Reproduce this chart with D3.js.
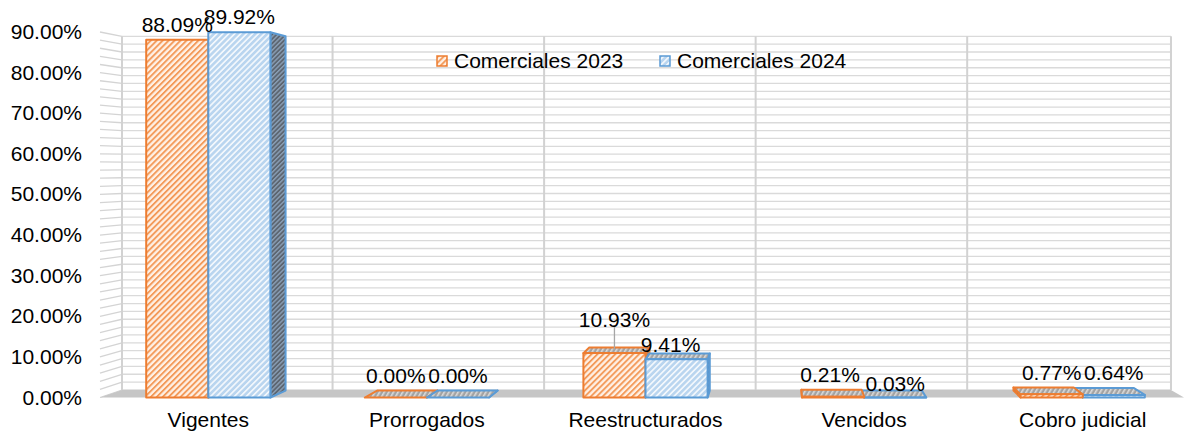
<!DOCTYPE html>
<html>
<head>
<meta charset="utf-8">
<script src="https://cdn.jsdelivr.net/npm/d3@7"></script>
<style>
  body { margin: 0; background: #fff; }
  text { font-family: "Liberation Sans", Arial, sans-serif; fill: #000; }
</style>
</head>
<body>
<div id="chart"></div>
<script>
// data
const categories = ["Vigentes", "Prorrogados", "Reestructurados", "Vencidos", "Cobro judicial"];
const seriesNames = ["Comerciales 2023", "Comerciales 2024"];
const values2023 = [0.8809, 0.0000, 0.1093, 0.0021, 0.0077];
const values2024 = [0.8992, 0.0000, 0.0941, 0.0003, 0.0064];
const yTicks = [0, 0.1, 0.2, 0.3, 0.4, 0.5, 0.6, 0.7, 0.8, 0.9];

const svgWidth = 1185;
const svgHeight = 434;
const fontSize = 21;

const colors = ["#ED7D31", "#5B9BD5"];

const svg = d3.select("#chart")
  .append("svg")
  .attr("width", svgWidth)
  .attr("height", svgHeight);

// 3d look: everything shrinks toward a vanishing point as it goes back
const vp = { x: 781, y: 165 };
const depthK = 0.0323;
function proj(px, py, t) {
  const s = 1 - t * depthK;
  return [vp.x + (px - vp.x) * s, vp.y + (py - vp.y) * s];
}
function poly(pts) {
  return pts.map(p => proj(p[0], p[1], p[2]).join(",")).join(" ");
}

const y = d3.scaleLinear().domain([0, 0.9]).range([397.5, 32]);
const x = d3.scaleBand().domain(categories).range([99, 1192]);
const xs = d3.scaleBand().domain(seriesNames).range([0, x.bandwidth()])
  .paddingInner(0).paddingOuter(0.76);

const wallL = 100, wallR = 1184;
const barDepth = 0.92;

// patterns
const defs = svg.append("defs");
function stripes(id, bg, fg, w, size, angle) {
  const p = defs.append("pattern")
    .attr("id", id)
    .attr("patternUnits", "userSpaceOnUse")
    .attr("width", size).attr("height", size)
    .attr("patternTransform", `rotate(${angle})`);
  p.append("rect").attr("width", size).attr("height", size).attr("fill", bg);
  p.append("rect").attr("width", w).attr("height", size).attr("fill", fg);
}
stripes("front0", "#fff1e6", "#f39a5a", 1.9, 4.2, 45);
stripes("front1", "#b9d5ef", "#f2f7fc", 1.7, 4.2, 45);
stripes("side0", "#7d6a5e", "#b7896a", 1.4, 3.2, 45);
stripes("side1", "#5c6570", "#8a9fb6", 1.4, 3.2, 45);
stripes("top0", "#a3a3a3", "#dadada", 1.6, 4, 30);
stripes("top1", "#a3a3a3", "#dadada", 1.6, 4, 30);

const walls = svg.append("g");

// left wall and back wall
walls.append("polygon")
  .attr("points", poly([[wallL, y(0.9), 0], [wallL, y(0.9), 1], [wallL, y(0), 1], [wallL, y(0), 0]]))
  .attr("fill", "#fff");
walls.append("polygon")
  .attr("points", poly([[wallL, y(0.9), 1], [wallR, y(0.9), 1], [wallR, y(0), 1], [wallL, y(0), 1]]))
  .attr("fill", "#fff");

const gridVals = d3.range(0, 46).map(i => i * 0.02);
gridVals.forEach(g => {
  const a = proj(wallL, y(g), 1), b = proj(wallR, y(g), 1);
  walls.append("line")
    .attr("x1", a[0]).attr("y1", a[1]).attr("x2", b[0]).attr("y2", b[1])
    .attr("stroke", "#dadada").attr("stroke-width", 1.3);
  walls.append("line")
    .attr("x1", wallL).attr("y1", y(g)).attr("x2", a[0]).attr("y2", a[1])
    .attr("stroke", "#d4d4d4").attr("stroke-width", 1.3);
});

// vertical gridlines on back wall at category boundaries
const vLines = [wallL].concat(categories.slice(1).map(c => x(c)), [wallR]);
vLines.forEach(vx => {
  const a = proj(vx, y(0), 1), b = proj(vx, y(0.9), 1);
  walls.append("line")
    .attr("x1", a[0]).attr("y1", a[1]).attr("x2", b[0]).attr("y2", b[1])
    .attr("stroke", "#d2d2d2").attr("stroke-width", 2);
});

// floor
walls.append("polygon")
  .attr("points", poly([[wallL, y(0), 0], [wallR, y(0), 0], [wallR, y(0), 1], [wallL, y(0), 1]]))
  .attr("fill", "#c6c6c6");

// y labels
svg.append("g").selectAll("text")
  .data(yTicks)
  .enter()
  .append("text")
  .attr("x", 82)
  .attr("y", d => y(d) + 7)
  .attr("text-anchor", "end")
  .attr("font-size", fontSize)
  .text(d => d3.format(".2%")(d));

// bars
let bars = [];
categories.forEach((c, i) => {
  [values2023[i], values2024[i]].forEach((v, s) => {
    const x0 = x(c) + xs(seriesNames[s]);
    bars.push({ cat: c, s: s, v: v, x0: x0, x1: x0 + xs.bandwidth() });
  });
});
bars.sort((a, b) => Math.abs((b.x0 + b.x1) / 2 - vp.x) - Math.abs((a.x0 + a.x1) / 2 - vp.x));

const barG = svg.append("g");
bars.forEach(d => {
  const top = y(d.v), bot = y(0), col = colors[d.s];
  const g = barG.append("g")
    .attr("stroke", col).attr("stroke-width", 2).attr("stroke-linejoin", "round");
  if (d.x1 < vp.x) {
    g.append("polygon")
      .attr("points", poly([[d.x1, top, 0], [d.x1, top, barDepth], [d.x1, bot, barDepth], [d.x1, bot, 0]]))
      .attr("fill", `url(#side${d.s})`);
  } else if (d.x0 > vp.x) {
    g.append("polygon")
      .attr("points", poly([[d.x0, top, 0], [d.x0, top, barDepth], [d.x0, bot, barDepth], [d.x0, bot, 0]]))
      .attr("fill", `url(#side${d.s})`);
  }
  if (top > vp.y) {
    g.append("polygon")
      .attr("points", poly([[d.x0, top, 0], [d.x1, top, 0], [d.x1, top, barDepth], [d.x0, top, barDepth]]))
      .attr("fill", `url(#top${d.s})`);
  }
  g.append("rect")
    .attr("x", d.x0).attr("y", top)
    .attr("width", d.x1 - d.x0).attr("height", bot - top)
    .attr("fill", `url(#front${d.s})`);
});

// data labels (a few nudged the way excel placed them)
const labelNudge = {
  "Reestructurados|0": [0, -13],
  "Reestructurados|1": [-6, 6],
  "Vencidos|0": [-3, 0],
  "Vencidos|1": [0, 9]
};
const labelG = svg.append("g");
bars.forEach(d => {
  const top = y(d.v);
  const backTop = proj(d.x0, top, barDepth)[1];
  const cx = (d.x0 + d.x1) / 2;
  const n = labelNudge[d.cat + "|" + d.s] || [0, 0];
  const cy = Math.min(top, backTop) - 15.5 + n[1];
  if (n[1] < -8) {
    labelG.append("line")
      .attr("x1", cx).attr("x2", cx)
      .attr("y1", cy + 8).attr("y2", (top + backTop) / 2)
      .attr("stroke", "#a6a6a6").attr("stroke-width", 1.3);
  }
  labelG.append("text")
    .attr("x", cx + n[0])
    .attr("y", cy + 7.5)
    .attr("text-anchor", "middle")
    .attr("font-size", fontSize)
    .text(d3.format(".2%")(d.v));
});

// category labels
svg.append("g").selectAll("text")
  .data(categories)
  .enter()
  .append("text")
  .attr("x", d => x(d) + x.bandwidth() / 2)
  .attr("y", 427)
  .attr("text-anchor", "middle")
  .attr("font-size", fontSize)
  .text(d => d);

// legend
const legendX = [437, 660];
const legend = svg.append("g");
seriesNames.forEach((name, s) => {
  legend.append("rect")
    .attr("x", legendX[s]).attr("y", 56)
    .attr("width", 10).attr("height", 10)
    .attr("fill", `url(#front${s})`)
    .attr("stroke", colors[s]).attr("stroke-width", 1.5);
  legend.append("text")
    .attr("x", legendX[s] + 17)
    .attr("y", 68)
    .attr("font-size", fontSize)
    .text(name);
});
</script>
</body>
</html>
